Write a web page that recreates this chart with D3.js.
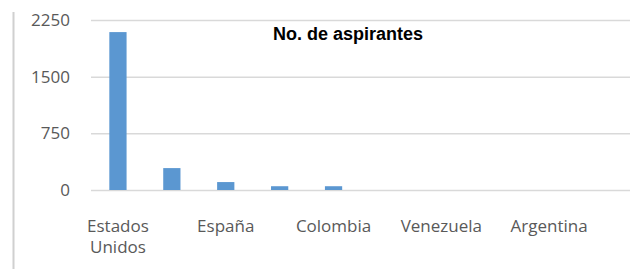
<!DOCTYPE html>
<html>
<head>
<meta charset="utf-8">
<script src="https://cdn.jsdelivr.net/npm/d3@7"></script>
<style>
  body { margin: 0; background: #fff; }
</style>
</head>
<body>
<svg id="chart" width="630" height="269"></svg>
<script>
const countries = ["Estados Unidos", "México", "España", "Perú", "Colombia", "Chile", "Venezuela", "Ecuador", "Argentina", "Otros"];
const aspirantes = [2090, 290, 105, 50, 50, 0, 0, 0, 0, 0];
const yTicks = [0, 750, 1500, 2250];
const title = "No. de aspirantes";

const svg = d3.select("#chart");
const margin = { top: 20, right: 0, bottom: 79, left: 91 };
const width = 630 - margin.left - margin.right;
const height = 269 - margin.top - margin.bottom;

// light frame line on the left
svg.append("line")
    .attr("x1", 13.5).attr("x2", 13.5)
    .attr("y1", 12).attr("y2", 269)
    .style("stroke", "#d0d0d0")
    .style("stroke-width", 2);

const g = svg.append("g")
    .attr("transform", `translate(${margin.left}, ${margin.top})`);

const x = d3.scaleBand()
    .domain(countries)
    .range([0, width])
    .paddingInner(0.68)
    .paddingOuter(0.34);

const y = d3.scaleLinear()
    .domain([0, 2250])
    .range([height, 0]);

// gridlines
g.append("g")
    .call(d3.axisLeft(y).tickValues(yTicks).tickSize(-width).tickFormat(""))
    .call(a => a.select(".domain").remove())
    .selectAll("line")
    .style("stroke", "#d9d9d9")
    .style("stroke-width", 1.5);

// y labels
g.append("g")
    .call(d3.axisLeft(y).tickValues(yTicks).tickSize(0).tickPadding(21).tickFormat(d3.format("d")))
    .call(a => a.select(".domain").remove())
    .selectAll("text")
    .style("font-family", "'Open Sans', sans-serif")
    .style("font-size", "17px")
    .style("fill", "#595959");

g.selectAll(".bar")
    .data(countries)
    .enter()
    .append("rect")
    .attr("class", "bar")
    .attr("x", d => x(d))
    .attr("width", x.bandwidth())
    .attr("y", (d, i) => y(aspirantes[i]))
    .attr("height", (d, i) => height - y(aspirantes[i]))
    .style("fill", "#5b97d1");

// x labels, every other category
const xl = g.append("g")
    .attr("transform", `translate(0, ${height})`)
    .call(d3.axisBottom(x).tickSize(0).tickPadding(30).tickFormat((d, i) => i % 2 == 0 ? d : ""));
xl.select(".domain").remove();
xl.selectAll("text")
    .style("font-family", "'Open Sans', sans-serif")
    .style("font-size", "17px")
    .style("fill", "#595959")
    .each(function(d) {
        let words = d.split(" ");
        if (words.length > 1) {
            let t = d3.select(this).text("");
            words.forEach((w, k) => {
                t.append("tspan").attr("x", 0).attr("dy", k == 0 ? "0.71em" : "1.25em").text(w);
            });
        }
    });

svg.append("text")
    .attr("x", 348)
    .attr("y", 40)
    .attr("text-anchor", "middle")
    .style("font-family", "'Liberation Sans', Arial, sans-serif")
    .style("font-weight", "bold")
    .style("font-size", "18px")
    .style("fill", "#000")
    .text(title);
</script>
</body>
</html>
